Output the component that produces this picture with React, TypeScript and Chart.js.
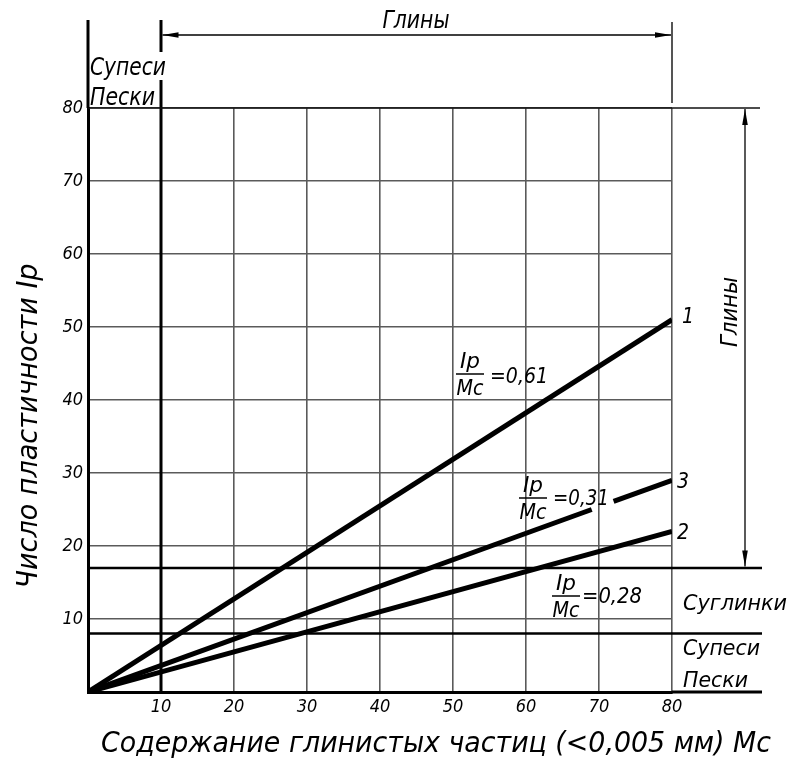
import React, { useEffect, useRef } from 'react';
import { Chart, registerables } from 'chart.js';

Chart.register(...registerables);

// ---- data ----
const xTickValues = [0, 10, 20, 30, 40, 50, 60, 70, 80];
const yTickValues = [0, 10, 20, 30, 40, 50, 60, 70, 80];
const xMin = 0;
const xMax = 80;
const yMin = 0;
const yMax = 80;

const line1X = [0, 80];
const line1Y = [0, 51];
const line2X = [0, 80];
const line2Y = [0, 22];
const line3X = [0, 69, 72, 80];
const line3Y = [0, 25, 26.1, 29];
const line3GapSegment = 1;

const loamLimitIp = 17; // Суглинки / Глины
const sandLimitIp = 8; // Супеси-Пески / Суглинки
const clayLimitMc = 10; // Супеси-Пески / Глины

const lineNames = ['1', '2', '3'];
const ratioLabels = ['0,61', '0,28', '0,31'];
const xTitle = 'Содержание глинистых частиц (<0,005 мм) Мс';
const yTitle = 'Число пластичности Ip';

const FAMILY = '"DejaVu Sans Condensed", "DejaVu Sans", sans-serif';
const font = (s: number) => `italic ${s}px ${FAMILY}`;

const toPts = (xs: number[], ys: number[]) => xs.map((x, i) => ({ x, y: ys[i] }));

const decor = {
  id: 'decor',
  beforeDatasetsDraw(chart: any) {
    const { ctx, chartArea: a, scales } = chart;
    const px = (v: number) => scales.x.getPixelForValue(v);
    const py = (v: number) => scales.y.getPixelForValue(v);
    const seg = (x1: number, y1: number, x2: number, y2: number, w: number, c = '#000') => {
      ctx.beginPath();
      ctx.strokeStyle = c;
      ctx.lineWidth = w;
      ctx.moveTo(x1, y1);
      ctx.lineTo(x2, y2);
      ctx.stroke();
    };
    ctx.save();
    ctx.lineCap = 'butt';
    seg(px(0), py(loamLimitIp), 762, py(loamLimitIp), 2.5);
    seg(px(0), py(sandLimitIp), 762, py(sandLimitIp), 2.5);
    seg(px(clayLimitMc), py(0), px(clayLimitMc), 80, 3);
    seg(px(clayLimitMc), 52, px(clayLimitMc), 20, 3);
    seg(px(0), py(yMax), 760, py(yMax), 1.5, '#111');
    seg(px(0), a.top, px(0), 20, 3);
    seg(a.right, py(0), 762, py(0), 3);
    seg(px(xMax), 22, px(xMax), 103, 2, '#555');
    ctx.restore();
  },
  afterDraw(chart: any) {
    const { ctx, scales } = chart;
    const px = (v: number) => scales.x.getPixelForValue(v);
    const py = (v: number) => scales.y.getPixelForValue(v);
    ctx.save();
    ctx.fillStyle = '#000';
    ctx.strokeStyle = '#000';

    const arrowH = (x1: number, x2: number, yy: number) => {
      ctx.beginPath();
      ctx.lineWidth = 1.3;
      ctx.moveTo(x1, yy);
      ctx.lineTo(x2, yy);
      ctx.stroke();
      const L = 16, H = 2.8;
      ctx.beginPath();
      ctx.moveTo(x1, yy); ctx.lineTo(x1 + L, yy - H); ctx.lineTo(x1 + L, yy + H); ctx.closePath(); ctx.fill();
      ctx.beginPath();
      ctx.moveTo(x2, yy); ctx.lineTo(x2 - L, yy - H); ctx.lineTo(x2 - L, yy + H); ctx.closePath(); ctx.fill();
    };
    const arrowV = (xx: number, y1: number, y2: number) => {
      ctx.beginPath();
      ctx.lineWidth = 1.3;
      ctx.moveTo(xx, y1);
      ctx.lineTo(xx, y2);
      ctx.stroke();
      const L = 16, H = 2.8;
      ctx.beginPath();
      ctx.moveTo(xx, y1); ctx.lineTo(xx - H, y1 + L); ctx.lineTo(xx + H, y1 + L); ctx.closePath(); ctx.fill();
      ctx.beginPath();
      ctx.moveTo(xx, y2); ctx.lineTo(xx - H, y2 - L); ctx.lineTo(xx + H, y2 - L); ctx.closePath(); ctx.fill();
    };
    arrowH(px(clayLimitMc) + 1.5, px(xMax) - 1, 35);
    arrowV(745, py(yMax) + 1, py(loamLimitIp) - 1.5);

    // text drawn and stretched/compressed horizontally to a target width
    const txt = (s: string, x: number, y: number, size: number, align: CanvasTextAlign = 'left', fitW?: number, rot = 0) => {
      ctx.save();
      ctx.font = font(size);
      ctx.textAlign = align;
      ctx.textBaseline = 'alphabetic';
      ctx.translate(x, y);
      if (rot) ctx.rotate(rot);
      if (fitW) {
        const w = ctx.measureText(s).width;
        ctx.scale(fitW / w, 1);
      }
      ctx.fillText(s, 0, 0);
      ctx.restore();
    };

    txt('Глины', 416, 28, 24, 'center', 67);
    txt('Супеси', 90, 75, 24, 'left', 76);
    txt('Пески', 90, 105, 24, 'left', 65);
    txt('Глины', 737, 312, 23, 'center', 70, -Math.PI / 2);
    txt('Суглинки', 683, 610, 22, 'left', 104);
    txt('Супеси', 683, 655, 22, 'left', 77);
    txt('Пески', 683, 687, 22, 'left', 65);

    txt(lineNames[0], 688, py(line1Y[1]) + 3, 21, 'center');
    txt(lineNames[1], 683, py(line2Y[1]) + 8, 21, 'center');
    txt(lineNames[2], 683, py(line3Y[3]) + 8, 21, 'center');

    const frac = (cx: number, barY: number, vx: number, vy: number, value: string, vw: number) => {
      txt('Ip', cx, barY - 6, 22, 'center', 20);
      ctx.beginPath();
      ctx.lineWidth = 1.5;
      ctx.moveTo(cx - 14, barY);
      ctx.lineTo(cx + 14, barY);
      ctx.stroke();
      txt('Mc', cx, barY + 21, 22, 'center', 27);
      txt('=' + value, vx, vy, 21, 'left', vw);
    };
    frac(470, 374, 490, 383, ratioLabels[0], 58);
    frac(533, 498, 553, 505, ratioLabels[2], 56);
    frac(566, 596, 582, 603, ratioLabels[1], 60);

    txt(xTitle, 101, 752, 29, 'left', 670);
    txt(yTitle, 37, 426, 29, 'center', 325, -Math.PI / 2);
    ctx.restore();
  },
};

export default function App() {
  const ref = useRef<HTMLCanvasElement | null>(null);
  useEffect(() => {
    if (!ref.current) return;
    const lineStyle = {
      borderColor: '#000',
      borderWidth: 5,
      pointRadius: 0,
      borderCapStyle: 'butt' as const,
      fill: false,
      tension: 0,
    };
    const tickFont = { family: FAMILY, size: 18, style: 'italic' as const };
    const chart = new Chart(ref.current, {
      type: 'line',
      data: {
        datasets: [
          { ...lineStyle, label: lineNames[0], data: toPts(line1X, line1Y) },
          { ...lineStyle, label: lineNames[1], data: toPts(line2X, line2Y) },
          {
            ...lineStyle,
            label: lineNames[2],
            data: toPts(line3X, line3Y),
            segment: {
              borderColor: (c: any) => (c.p0DataIndex === line3GapSegment ? 'rgba(0,0,0,0)' : '#000'),
            },
          },
        ],
      },
      options: {
        responsive: false,
        animation: false,
        devicePixelRatio: 1,
        layout: { padding: { top: 108, right: 116, left: 0, bottom: 0 } },
        plugins: { legend: { display: false }, tooltip: { enabled: false } },
        scales: {
          x: {
            type: 'linear',
            min: xMin,
            max: xMax,
            afterBuildTicks: (s: any) => {
              s.ticks = xTickValues.map((v) => ({ value: v }));
            },
            afterFit: (s: any) => {
              s.height = 66;
            },
            ticks: {
              color: '#000',
              font: tickFont,
              padding: 5,
              maxRotation: 0,
              callback: (v: any) => (v === 0 ? '' : String(v)),
            },
            grid: { color: '#5a5a5a', lineWidth: 1.6, drawTicks: false },
            border: { display: true, color: '#000', width: 3 },
          },
          y: {
            type: 'linear',
            min: yMin,
            max: yMax,
            afterBuildTicks: (s: any) => {
              s.ticks = yTickValues.map((v) => ({ value: v }));
            },
            afterFit: (s: any) => {
              s.width = 88;
            },
            ticks: {
              color: '#000',
              font: tickFont,
              padding: 5,
              callback: (v: any) => (v === 0 ? '' : String(v)),
            },
            grid: { color: '#5a5a5a', lineWidth: 1.6, drawTicks: false },
            border: { display: true, color: '#000', width: 3 },
          },
        },
      },
      plugins: [decor],
    });
    return () => chart.destroy();
  }, []);
  return (
    <div style={{ position: 'absolute', left: 0, top: 0, width: 788, height: 758, background: '#fff' }}>
      <canvas ref={ref} width={788} height={758} style={{ width: 788, height: 758 }} />
    </div>
  );
}
